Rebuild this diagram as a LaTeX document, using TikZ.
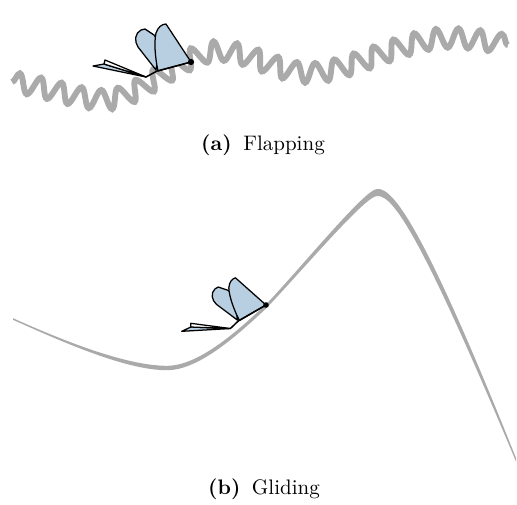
\documentclass[tikz,border=0pt]{standalone}
\usetikzlibrary{decorations.pathmorphing}
\definecolor{trail}{RGB}{170,170,170}
\definecolor{wingblue}{RGB}{184,207,225}
\tikzset{
  wing/.style={fill=wingblue, draw=black, line width=0.6pt, line join=round},
  foldwing/.style={fill=white, draw=black, line width=0.6pt, line join=round},
  bodyline/.style={draw=black, line width=0.7pt, line join=round},
  butterfly/.pic={
    % folded hind wings
    \filldraw[wing] (-45,15) -- (-98,4) -- (-87,2) -- cycle;
    \filldraw[foldwing] (-45,15) -- (-87,2) -- (-86,-2) -- cycle;
    % rear forewing
    \filldraw[wing] (-35,8) -- (-53,-15) .. controls (-57,-21) and (-56,-29) .. (-50,-32)
      -- (-46,-33) -- (-37,-27) -- (-31,-20) -- cycle;
    % front forewing
    \filldraw[wing] (-33,9) .. controls (-36,-5) and (-37,-20) .. (-35,-29)
      .. controls (-33,-35) and (-29,-38) .. (-25,-38) -- (0,0) -- cycle;
    % body and head
    \draw[bodyline] (0,0) -- (-34,9) -- (-45,15);
    \fill (0,0) circle[radius=1.5pt];
  },
  caption/.style={anchor=base, font=\normalsize}
}
\begin{document}
\begin{tikzpicture}[x=0.476pt,y=-0.476pt]
\useasboundingbox (0,0) rectangle (517,504);

% flapping flight path: a wavy line around a smooth base curve
\coordinate (f0) at (12,82);
\coordinate (f1) at (100,99);
\coordinate (f2) at (215,50);
\coordinate (f3) at (305,72);
\coordinate (f4) at (445,37);
\coordinate (f5) at (508,45);
\draw[trail, line width=2.8pt, decorate,
      decoration={snake, segment length=10pt, amplitude=4.6pt}]
  (f0) .. controls (40,86) and (75,99) .. (f1)
       .. controls (135,99) and (180,50) .. (f2)
       .. controls (245,50) and (275,72) .. (f3)
       .. controls (345,72) and (400,37) .. (f4)
       .. controls (470,37) and (490,41) .. (f5);
\pic at (191,62) {butterfly};
\node[caption] (capa) at (263,150) {\textbf{(a)}\hspace{0.55em}Flapping};

% gliding flight path, slightly thicker at the top of the climb
\fill[trail]
  (13,318.2) .. controls (60,339.2) and (125,365.8) .. (167,365.8)
             .. controls (200,365.8) and (240,328.4) .. (266,304.4)
             .. controls (300,268.9) and (365,189) .. (377,189)
             .. controls (395,186.5) and (430,243) .. (516,458)
  -- (516,461.5)
             .. controls (430,257) and (395,193.5) .. (377,196)
             .. controls (365,196) and (300,273.1) .. (266,308.6)
             .. controls (240,332.6) and (200,370.2) .. (167,370.2)
             .. controls (125,370.2) and (60,340.8) .. (13,319.8)
  -- cycle;
\pic[rotate=15, scale=0.9] at (266,305) {butterfly};
\node[caption] (capb) at (264,494) {\textbf{(b)}\hspace{0.55em}Gliding};
\end{tikzpicture}
\end{document}
